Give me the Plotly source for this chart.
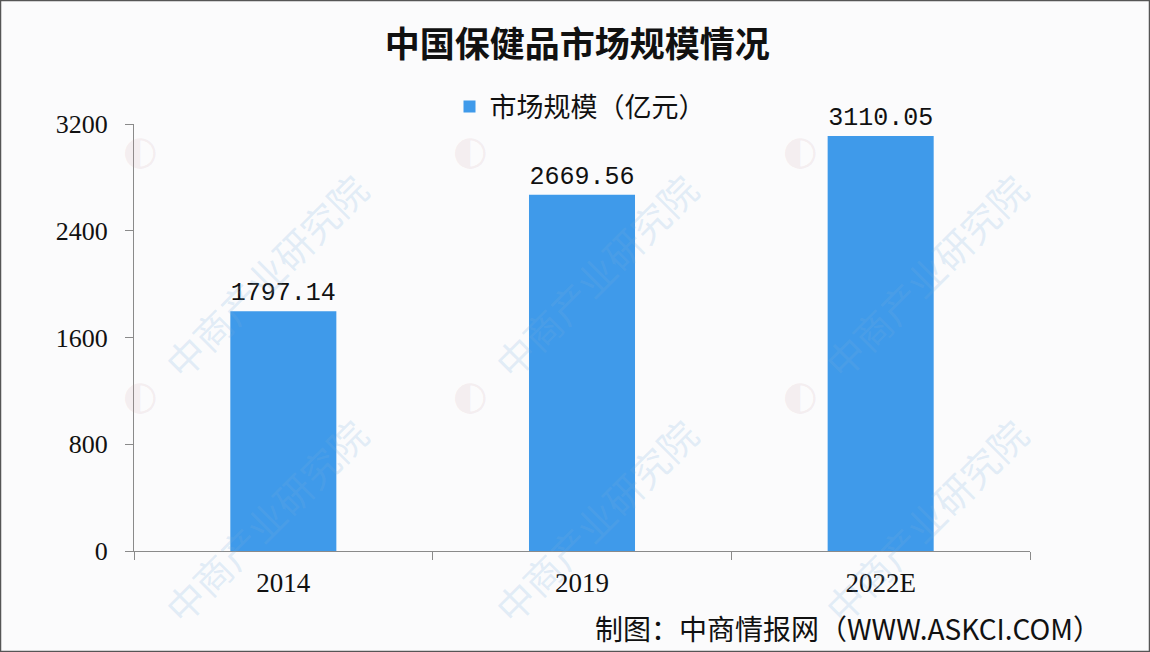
import plotly.graph_objects as go

categories = ["2014", "2019", "2022E"]
values = [1797.14, 2669.56, 3110.05]
value_labels = ["1797.14", "2669.56", "3110.05"]
y_ticks = [0, 800, 1600, 2400, 3200]
series_name = "市场规模（亿元）"
title_text = "中国保健品市场规模情况"
source_text = "制图：中商情报网（WWW.ASKCI.COM）"
watermark_text = "中商产业研究院"

W, H = 1150, 652
L, R, T, B = 134, 120, 124, 101
pw, ph = W - L - R, H - T - B

def px_x(x):
    return (x - L) / pw

def px_y(y):
    return (H - B - y) / ph

fig = go.Figure()
fig.add_trace(go.Bar(
    x=categories, y=values, name=series_name,
    marker=dict(color="#3F9AEA", line=dict(width=0)),
    width=0.355,
    text=value_labels, textposition="outside",
    textfont=dict(family="Liberation Mono", size=25, color="#111111"),
    cliponaxis=False, showlegend=True,
))

annotations = []
# faint tiled watermark
for lx in [140, 470, 800]:
    for ly in [395, 640]:
        cx, cy = lx + 125, ly - 120
        annotations.append(dict(
            x=px_x(cx), y=px_y(cy), xref="paper", yref="paper",
            text=watermark_text, showarrow=False, textangle=-45,
            font=dict(family="Noto Sans CJK SC", size=38, color="rgba(120,175,220,0.2)"),
            xanchor="center", yanchor="middle",
        ))
for lx in [140, 470, 800]:
    for ly in [150, 395]:
        annotations.append(dict(
            x=px_x(lx), y=px_y(ly), xref="paper", yref="paper",
            text="◐", showarrow=False,
            font=dict(family="DejaVu Sans", size=40, color="rgba(200,150,160,0.15)"),
            xanchor="center", yanchor="middle",
        ))

annotations.append(dict(
    x=px_x(848), y=px_y(628), xref="paper", yref="paper",
    text=source_text, showarrow=False,
    font=dict(family="Noto Sans CJK SC", size=28, color="#111111"),
    xanchor="center", yanchor="middle",
))

fig.update_layout(
    width=W, height=H,
    margin=dict(l=L, r=R, t=T, b=B, autoexpand=False),
    paper_bgcolor="#FBFBFC", plot_bgcolor="rgba(0,0,0,0)",
    title=dict(text="<b>" + title_text + "</b>", x=0.502, xref="container",
               y=1 - 45 / H, yref="container", xanchor="center", yanchor="middle",
               font=dict(family="Noto Sans CJK SC", size=35, color="#111111")),
    legend=dict(orientation="h", x=px_x(580), y=px_y(107), xanchor="center", yanchor="middle",
                font=dict(family="Noto Sans CJK SC", size=27, color="#111111"),
                bgcolor="rgba(0,0,0,0)", itemsizing="constant"),
    xaxis=dict(type="category", range=[-0.5, 2.5], tickson="boundaries",
               showline=True, linecolor="#8A8A8A", linewidth=1,
               ticks="outside", ticklen=8, tickcolor="#8A8A8A",
               ticklabelstandoff=8,
               showgrid=False, zeroline=False,
               tickfont=dict(family="Liberation Serif", size=27, color="#111111")),
    yaxis=dict(range=[0, 3200], tickvals=y_ticks, ticktext=[str(v) for v in y_ticks],
               showline=True, linecolor="#8A8A8A", linewidth=1,
               ticks="outside", ticklen=8, tickcolor="#8A8A8A",
               ticklabelstandoff=12,
               showgrid=False, zeroline=False,
               tickfont=dict(family="Liberation Serif", size=26, color="#111111")),
    annotations=annotations,
    shapes=[dict(type="rect", xref="paper", yref="paper",
                 x0=px_x(0.5), x1=px_x(W - 0.5), y0=px_y(H - 0.5), y1=px_y(0.5),
                 line=dict(color="#555555", width=1.5), layer="above")],
    bargap=0.6,
)

fig.write_html("out.html", config={"displayModeBar": False},
               post_script="document.body.style.margin='0';document.body.style.overflow='hidden';")
